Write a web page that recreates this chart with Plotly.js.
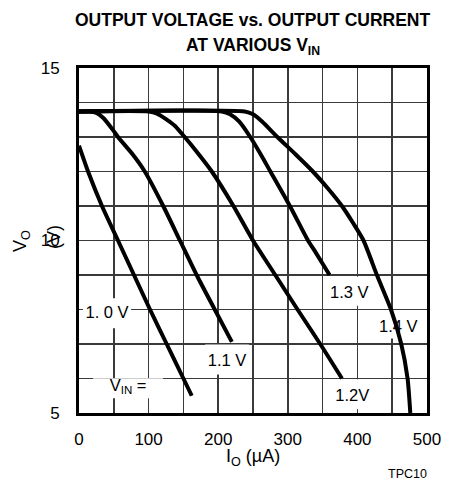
<!DOCTYPE html>
<html>
<head>
<meta charset="utf-8">
<script src="https://cdn.plot.ly/plotly-3.0.1.min.js"></script>
<style>
  html, body { margin: 0; padding: 0; background: #fff; }
  #chart { width: 451px; height: 483px; }
</style>
</head>
<body>
<div id="chart"></div>
<script>
// ---- Data ----
const seriesNames = ['1.0 V', '1.1 V', '1.2 V', '1.3 V', '1.4 V'];

const io_10 = [0, 13, 33, 56, 79, 102, 126, 150, 162];
const vo_10 = [12.75, 12, 11, 10, 9, 8, 7, 6, 5.5];

const io_11 = [0, 15, 25, 35, 50, 56, 77, 94.5, 121, 145, 169, 195, 219.6];
const vo_11 = [13.74, 13.74, 13.7, 13.55, 13.17, 13, 12.5, 12, 11, 10, 9, 8, 7.06];

const io_12 = [0, 100, 112, 125, 138, 151, 170, 190.8, 221.9, 250, 282, 314, 346.6, 377.8];
const vo_12 = [13.74, 13.74, 13.68, 13.52, 13.32, 13.02, 12.55, 12, 11, 10, 9, 8, 7, 6.0];

const io_13 = [0, 205, 217, 230, 246, 261, 275, 303, 329, 338, 360];
const vo_13 = [13.74, 13.74, 13.66, 13.45, 13, 12.5, 12, 11, 10, 9.72, 9.0];

const io_14 = [0, 238, 250, 263, 285, 311, 336, 358, 377.8, 394, 408.8, 428, 448.2, 463, 472.1, 476];
const vo_14 = [13.74, 13.74, 13.66, 13.45, 13, 12.5, 12, 11.5, 11, 10.5, 10, 9, 8, 7, 6, 5];

const xTickVals = [0, 100, 200, 300, 400, 500];
const yTickVals = [5, 10, 15];

// Curve labels
const labelText = ['1. 0 V', 'V<sub>IN</sub> =', '1.1 V', '1.2V', '1.3 V', '1.4 V'];
const labelX = [40.3, 70.5, 212.8, 392.6, 388.3, 458.7];
const labelY = [7.86, 5.76, 6.48, 5.47, 8.46, 7.48];

const titleLines = ['<b>OUTPUT VOLTAGE vs. OUTPUT CURRENT</b>', '<b>AT VARIOUS V<sub>IN</sub></b>'];

// ---- Styles ----
const FAM = '"Liberation Sans", Arial, sans-serif';
const SZ = { title: 17.5, tick: 17, label: 16.5, axis: 18, small: 12.5 };

// label white boxes (pixels): width, height, centre offset
const boxW = [48, 70, 44, 40, 44, 44];
const boxH = [30, 20, 30, 30, 29, 27];
const boxDy = [-1, 1.5, -2.5, -2.5, -2.5, -2.5];

const curveX = [io_10, io_11, io_12, io_13, io_14];
const curveY = [vo_10, vo_11, vo_12, vo_13, vo_14];

const traces = [];
traces.push({
  type: 'scatter', mode: 'text',
  x: labelX, y: labelY, text: labelText,
  textposition: 'middle center',
  textfont: { family: FAM, size: SZ.label, color: '#000' },
  hoverinfo: 'skip', showlegend: false, cliponaxis: false
});
seriesNames.forEach((n, i) => {
  traces.push({
    type: 'scatter', mode: 'lines', name: n,
    x: curveX[i], y: curveY[i],
    line: { color: '#000', width: 4, shape: 'spline', smoothing: 0.6 },
    hoverinfo: 'skip', showlegend: false
  });
});

const shapes = labelX.map((x, i) => ({
  type: 'rect', layer: 'between',
  xref: 'x', yref: 'y',
  xsizemode: 'pixel', ysizemode: 'pixel',
  xanchor: x, yanchor: labelY[i],
  x0: -boxW[i] / 2, x1: boxW[i] / 2,
  y0: -boxH[i] / 2 - boxDy[i], y1: boxH[i] / 2 - boxDy[i],
  fillcolor: '#fff', line: { width: 0 }
}));

const gridColor = '#3a3a3a';
const layout = {
  width: 451, height: 483,
  margin: { l: 79, r: 24, t: 68, b: 70 },
  paper_bgcolor: '#fff', plot_bgcolor: '#fff',
  showlegend: false,
  xaxis: {
    range: [0, 500], tickvals: xTickVals, ticks: '',
    showgrid: true, gridcolor: gridColor, gridwidth: 1.6,
    minor: { dtick: 50, tick0: 0, showgrid: true, gridcolor: gridColor, gridwidth: 1.6 },
    zeroline: false, showline: true, mirror: true, linecolor: '#000', linewidth: 3,
    tickfont: { family: FAM, size: SZ.tick, color: '#000' },
    ticklabelstandoff: 9, fixedrange: true
  },
  yaxis: {
    range: [5, 15], tickvals: yTickVals, ticks: '',
    showgrid: true, gridcolor: gridColor, gridwidth: 1.6,
    minor: { dtick: 1, tick0: 5, showgrid: true, gridcolor: gridColor, gridwidth: 1.6 },
    zeroline: false, showline: true, mirror: true, linecolor: '#000', linewidth: 3,
    tickfont: { family: FAM, size: SZ.tick, color: '#000' },
    ticklabelstandoff: 13, fixedrange: true
  },
  shapes: shapes,
  annotations: [
    { text: titleLines[0], xref: 'paper', yref: 'paper', x: 0.5, y: 1.138,
      xanchor: 'center', yanchor: 'middle', showarrow: false,
      font: { family: FAM, size: SZ.title, color: '#000' } },
    { text: titleLines[1], xref: 'paper', yref: 'paper', x: 0.5, y: 1.061,
      xanchor: 'center', yanchor: 'middle', showarrow: false,
      font: { family: FAM, size: SZ.title, color: '#000' } },
    { text: 'I<sub>O</sub> (µA)', xref: 'paper', yref: 'paper', x: 0.5, y: -0.13,
      xanchor: 'center', yanchor: 'middle', showarrow: false,
      font: { family: FAM, size: SZ.axis, color: '#000' } },
    { text: 'V<sub>O</sub>', xref: 'paper', yref: 'paper', x: -0.165, y: 0.497,
      xanchor: 'center', yanchor: 'middle', textangle: -90, showarrow: false,
      font: { family: FAM, size: SZ.axis, color: '#000' } },
    { text: '(V)', xref: 'paper', yref: 'paper', x: -0.072, y: 0.51,
      xanchor: 'center', yanchor: 'middle', textangle: -90, showarrow: false,
      font: { family: FAM, size: SZ.axis, color: '#000' } },
    { text: 'TPC10', xref: 'paper', yref: 'paper', x: 0.945, y: -0.177,
      xanchor: 'center', yanchor: 'middle', showarrow: false,
      font: { family: FAM, size: SZ.small, color: '#000' } }
  ]
};

Plotly.newPlot('chart', traces, layout, { staticPlot: true, displayModeBar: false });
</script>
</body>
</html>
